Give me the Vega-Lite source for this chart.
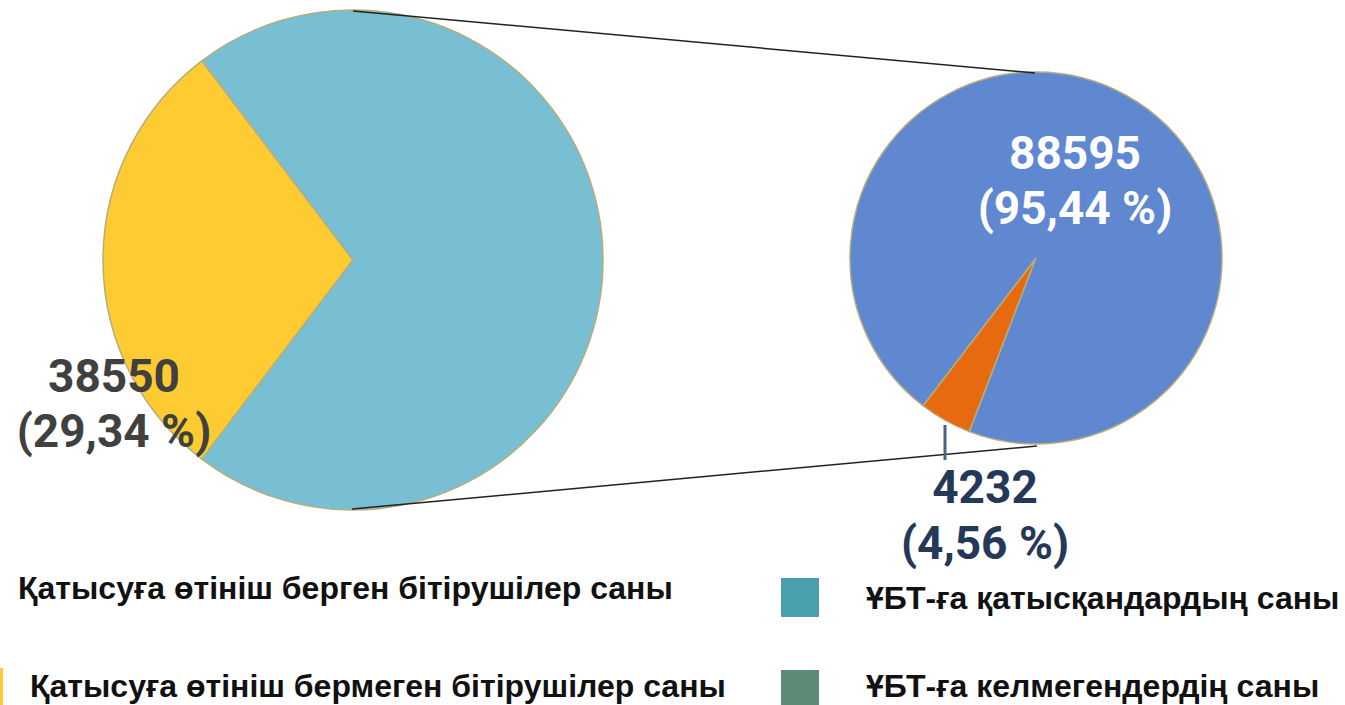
{
  "$schema": "https://vega.github.io/schema/vega-lite/v6.json",
  "width": 1345,
  "height": 705,
  "autosize": "none",
  "padding": 0,
  "background": "white",
  "config": {"view": {"stroke": null}},
  "datasets": {
    "slices": [
      {"pie": "left", "category": "Қатысуға өтініш бермеген бітірушілер саны", "value": 38550, "idx": 1, "label": "38550\n(29,34 %)"},
      {"pie": "left", "category": "Қатысуға өтініш берген бітірушілер саны", "value": 92827, "idx": 2, "label": ""},
      {"pie": "right", "category": "ҰБТ-ға келмегендердің саны", "value": 4232, "idx": 1, "label": "4232\n(4,56 %)"},
      {"pie": "right", "category": "ҰБТ-ға қатысқандардың саны", "value": 88595, "idx": 2, "label": "88595\n(95,44 %)"}
    ]
  },
  "data": {"name": "slices"},
  "resolve": {"scale": {"theta": "independent"}},
  "layer": [
    {
      "transform": [{"filter": "datum.pie === 'left'"}],
      "mark": {"type": "arc", "outerRadius": 250, "stroke": "#b5ad7c", "strokeWidth": 1.5},
      "encoding": {
        "x": {"datum": 353, "type": "quantitative", "scale": {"domain": [0, 1345], "nice": false, "zero": false}, "axis": null},
        "y": {"datum": 260, "type": "quantitative", "scale": {"domain": [0, 705], "reverse": true, "nice": false, "zero": false}, "axis": null},
        "theta": {"field": "value", "type": "quantitative", "stack": true, "scale": {"range": [3.7906, 10.0738]}},
        "order": {"field": "idx", "type": "quantitative"},
        "color": {"field": "category", "type": "nominal", "legend": null,
          "scale": {"domain": ["Қатысуға өтініш бермеген бітірушілер саны", "Қатысуға өтініш берген бітірушілер саны", "ҰБТ-ға келмегендердің саны", "ҰБТ-ға қатысқандардың саны"],
                    "range": ["#fecb32", "#78bfd4", "#e86a10", "#6088d0"]}}
      }
    },
    {
      "transform": [{"filter": "datum.pie === 'right'"}],
      "mark": {"type": "arc", "outerRadius": 186, "stroke": "#b5ad7c", "strokeWidth": 1.5},
      "encoding": {
        "x": {"datum": 1036, "type": "quantitative"},
        "y": {"datum": 258, "type": "quantitative"},
        "theta": {"field": "value", "type": "quantitative", "stack": true, "scale": {"range": [3.5081, 9.7913]}},
        "order": {"field": "idx", "type": "quantitative"},
        "color": {"field": "category", "type": "nominal", "legend": null}
      }
    },
    {
      "data": {"values": [{}]},
      "mark": {"type": "rule", "color": "#222222", "strokeWidth": 1.5},
      "encoding": {
        "x": {"datum": 353, "type": "quantitative"},
        "y": {"datum": 11, "type": "quantitative"},
        "x2": {"datum": 1035},
        "y2": {"datum": 73}
      }
    },
    {
      "data": {"values": [{}]},
      "mark": {"type": "rule", "color": "#222222", "strokeWidth": 1.5},
      "encoding": {
        "x": {"datum": 352, "type": "quantitative"},
        "y": {"datum": 509, "type": "quantitative"},
        "x2": {"datum": 1037},
        "y2": {"datum": 446}
      }
    },
    {
      "data": {"values": [{}]},
      "mark": {"type": "rule", "color": "#4b6387", "strokeWidth": 3},
      "encoding": {
        "x": {"datum": 945, "type": "quantitative"},
        "y": {"datum": 425, "type": "quantitative"},
        "y2": {"datum": 460}
      }
    },
    {
      "transform": [{"filter": "datum.pie === 'left' && datum.idx === 1"}],
      "mark": {"type": "text", "font": "Roboto", "fontWeight": "bold", "fontSize": 46, "color": "#404040", "lineBreak": "\n", "lineHeight": 55, "align": "center", "baseline": "middle"},
      "encoding": {
        "x": {"datum": 114, "type": "quantitative"},
        "y": {"datum": 378, "type": "quantitative"},
        "text": {"field": "label"}
      }
    },
    {
      "transform": [{"filter": "datum.pie === 'right' && datum.idx === 2"}],
      "mark": {"type": "text", "font": "Roboto", "fontWeight": "bold", "fontSize": 46, "color": "#ffffff", "lineBreak": "\n", "lineHeight": 55, "align": "center", "baseline": "middle"},
      "encoding": {
        "x": {"datum": 1075, "type": "quantitative"},
        "y": {"datum": 155, "type": "quantitative"},
        "text": {"field": "label"}
      }
    },
    {
      "transform": [{"filter": "datum.pie === 'right' && datum.idx === 1"}],
      "mark": {"type": "text", "font": "Roboto", "fontWeight": "bold", "fontSize": 46, "color": "#253858", "lineBreak": "\n", "lineHeight": 56, "align": "center", "baseline": "middle"},
      "encoding": {
        "x": {"datum": 985, "type": "quantitative"},
        "y": {"datum": 489, "type": "quantitative"},
        "text": {"field": "label"}
      }
    },
    {
      "data": {"values": [{}]},
      "mark": {"type": "rect", "color": "#fecb32"},
      "encoding": {
        "x": {"datum": 0, "type": "quantitative"}, "x2": {"datum": 3},
        "y": {"datum": 668, "type": "quantitative"}, "y2": {"datum": 705}
      }
    },
    {
      "data": {"values": [{}]},
      "mark": {"type": "rect", "color": "#4ba0af"},
      "encoding": {
        "x": {"datum": 781, "type": "quantitative"}, "x2": {"datum": 819},
        "y": {"datum": 578, "type": "quantitative"}, "y2": {"datum": 617}
      }
    },
    {
      "data": {"values": [{}]},
      "mark": {"type": "rect", "color": "#5c8a77"},
      "encoding": {
        "x": {"datum": 781, "type": "quantitative"}, "x2": {"datum": 819},
        "y": {"datum": 670, "type": "quantitative"}, "y2": {"datum": 706}
      }
    },
    {
      "data": {"values": [{"label": "Қатысуға өтініш берген бітірушілер саны"}]},
      "mark": {"type": "text", "font": "Liberation Sans", "fontWeight": "bold", "fontSize": 32, "color": "#111111", "align": "left", "baseline": "alphabetic"},
      "encoding": {
        "x": {"datum": 18, "type": "quantitative"},
        "y": {"datum": 599, "type": "quantitative"},
        "text": {"field": "label"}
      }
    },
    {
      "data": {"values": [{"label": "Қатысуға өтініш бермеген бітірушілер саны"}]},
      "mark": {"type": "text", "font": "Liberation Sans", "fontWeight": "bold", "fontSize": 32, "color": "#111111", "align": "left", "baseline": "alphabetic"},
      "encoding": {
        "x": {"datum": 30, "type": "quantitative"},
        "y": {"datum": 697, "type": "quantitative"},
        "text": {"field": "label"}
      }
    },
    {
      "data": {"values": [{"label": "ҰБТ-ға қатысқандардың саны"}]},
      "mark": {"type": "text", "font": "Liberation Sans", "fontWeight": "bold", "fontSize": 32, "color": "#111111", "align": "left", "baseline": "alphabetic"},
      "encoding": {
        "x": {"datum": 866, "type": "quantitative"},
        "y": {"datum": 609, "type": "quantitative"},
        "text": {"field": "label"}
      }
    },
    {
      "data": {"values": [{"label": "ҰБТ-ға келмегендердің саны"}]},
      "mark": {"type": "text", "font": "Liberation Sans", "fontWeight": "bold", "fontSize": 32, "color": "#111111", "align": "left", "baseline": "alphabetic"},
      "encoding": {
        "x": {"datum": 866, "type": "quantitative"},
        "y": {"datum": 697, "type": "quantitative"},
        "text": {"field": "label"}
      }
    }
  ]
}
